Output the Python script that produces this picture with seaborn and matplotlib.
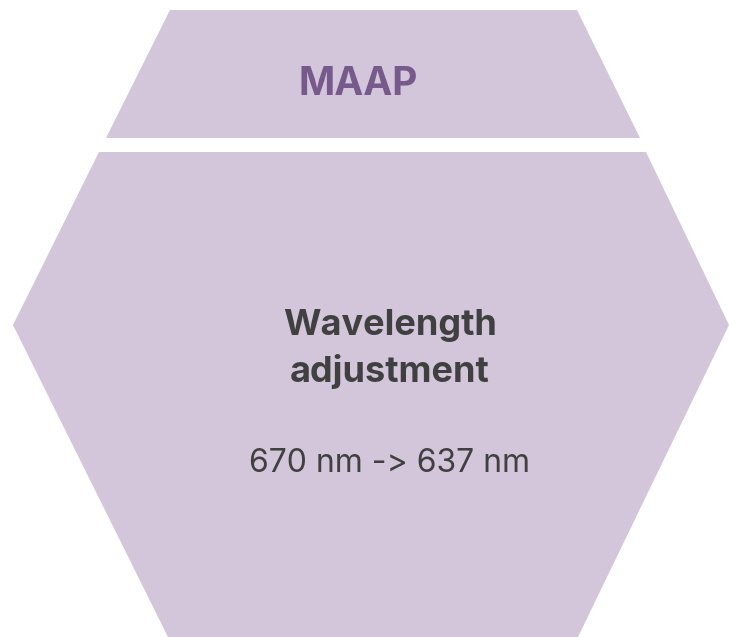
import matplotlib
matplotlib.use("Agg")
import matplotlib.pyplot as plt
import seaborn as sns
from matplotlib.patches import Polygon

sns.set_theme(style="white")
plt.rcParams['font.family'] = ['Inter', 'DejaVu Sans']

# labels shown in the diagram
header = "MAAP"
title_lines = ["Wavelength", "adjustment"]
detail = "670 nm -> 637 nm"

fill = "#d3c6da"
header_color = "#765a8b"
text_color = "#404040"

fig = plt.figure(figsize=(7.29, 6.37), dpi=100)
ax = fig.add_axes([0, 0, 1, 1])
ax.set_xlim(0, 729)
ax.set_ylim(637, 0)
ax.axis("off")

# hexagon, cut into a top band and a lower body
top = [(170, 10), (577, 10), (640, 138), (106, 138)]
body = [(99, 152), (646, 152), (729, 325), (578, 637), (168, 637), (13, 325)]
ax.add_patch(Polygon(top, closed=True, facecolor=fill, edgecolor="none"))
ax.add_patch(Polygon(body, closed=True, facecolor=fill, edgecolor="none"))

ax.text(358, 95, header, ha="center", va="baseline", fontsize=28,
        fontweight="bold", color=header_color)
for line, base in zip(title_lines, [335, 382]):
    ax.text(390, base, line, ha="center", va="baseline", fontsize=26,
            fontweight="bold", color=text_color)
ax.text(390, 472, detail, ha="center", va="baseline", fontsize=23,
        color=text_color)

fig.savefig("out.png", dpi=100)
